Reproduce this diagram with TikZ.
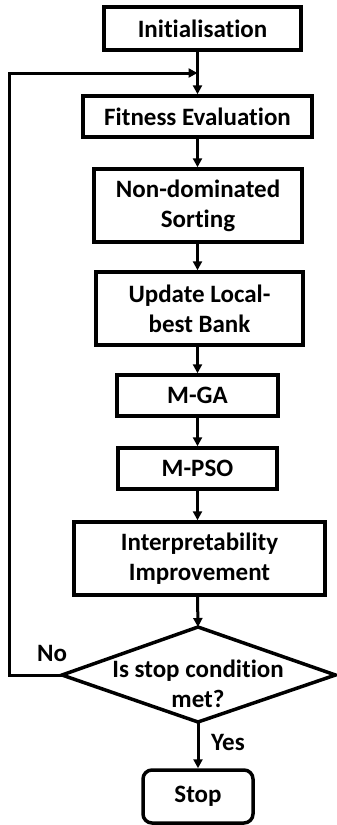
\documentclass[tikz,border=0pt]{standalone}
\usepackage{fontspec}
\setmainfont{Carlito}[Ligatures=NoCommon]
\usetikzlibrary{shapes.geometric,arrows.meta}
\tikzset{
  boxnode/.style={draw=black, line width=3.5pt, rectangle, align=center, inner sep=0pt,
    font=\fontsize{25}{30}\selectfont\bfseries},
  lbl/.style={font=\fontsize{25}{30}\selectfont\bfseries, inner sep=0pt},
  conn/.style={line width=3pt, -{Triangle[length=9pt,width=9pt]}}
}
\begin{document}
\begin{tikzpicture}[x=1pt,y=-1pt]
\useasboundingbox (0,0) rectangle (337,825);
\node[boxnode, minimum width=197pt, minimum height=43pt] (init) at (202.5,28.5) {Initialisation};
\node[boxnode, minimum width=229pt, minimum height=41pt] (fit) at (197.5,116.5) {Fitness Evaluation};
\node[boxnode, minimum width=208pt, minimum height=73pt] (nds) at (198,205.5) {Non-dominated\\Sorting};
\node[boxnode, minimum width=207pt, minimum height=73pt] (ulb) at (199.5,308.5) {Update Local-\\best Bank};
\node[boxnode, minimum width=161pt, minimum height=41pt] (mga) at (197.5,395.5) {M-GA};
\node[boxnode, minimum width=159pt, minimum height=41pt] (mpso) at (197.5,468.5) {M-PSO};
\node[boxnode, minimum width=251pt, minimum height=73pt] (ii) at (199.5,558.5) {Interpretability\\Improvement};
\path (198,627) coordinate (dtop) (198,722) coordinate (dbot) (62,675) coordinate (dleft) (335.5,675) coordinate (dright);
\draw[line width=3.5pt, line join=miter] (dtop) -- (dright) -- (dbot) -- (dleft) -- cycle;
\node[lbl, align=center] (dec) at (198,684) {Is stop condition\\met?};
\node[boxnode, rounded corners=9pt, minimum width=110pt, minimum height=53pt] (stop) at (198,796.5) {Stop};
\coordinate (m) at (197.5,73);
\coordinate (c1) at (9,675);
\coordinate (c2) at (9,73);
\draw[conn] (fit.north |- init.south) -- (fit.north);
\draw[conn] (fit.south) -- (fit.south |- nds.north);
\draw[conn] (fit.south |- nds.south) -- (fit.south |- ulb.north);
\draw[conn] (fit.south |- ulb.south) -- (fit.south |- mga.north);
\draw[conn] (mga.south) -- (mpso.north);
\draw[conn] (fit.south |- mpso.south) -- (fit.south |- ii.north);
\draw[conn] (fit.south |- ii.south) -- (dtop);
\draw[conn] (dbot) -- (stop.north);
\draw[conn, line join=miter] (dleft) -- (c1) -- (c2) -- (m);
\node[lbl] (no) at (52,653) {No};
\node[lbl] (yes) at (228,742) {Yes};
\end{tikzpicture}
\end{document}
